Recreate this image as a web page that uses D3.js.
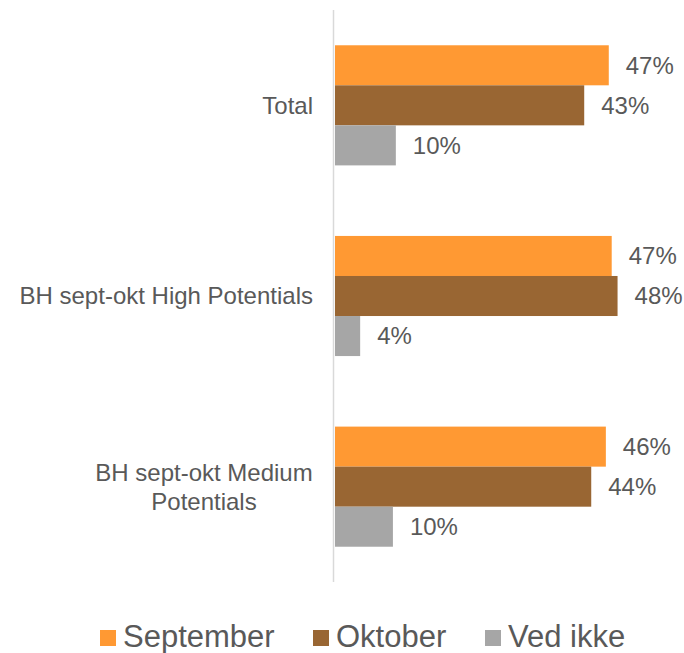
<!DOCTYPE html>
<html>
<head>
<meta charset="utf-8">
<script src="https://cdn.jsdelivr.net/npm/d3@7"></script>
<style>
  body { margin: 0; background: #fff; }
  text { font-family: "Liberation Sans", Arial, sans-serif; fill: #595959; }
</style>
</head>
<body>
<div id="chart"></div>
<script>
// data
var categories = ["Total", "BH sept-okt High Potentials", "BH sept-okt Medium Potentials"];
var seriesNames = ["September", "Oktober", "Ved ikke"];
var september = [46.8, 47.3, 46.3];
var oktober = [42.6, 48.3, 43.8];
var vedIkke = [10.4, 4.3, 9.9];
var colors = ["#ff9933", "#996633", "#a6a6a6"];

var W = 684, H = 653;
var margin = { top: 10, right: 0, bottom: 71, left: 335 };
var width = W - margin.left - margin.right;
var height = H - margin.top - margin.bottom;

var svg = d3.select("#chart").append("svg")
    .attr("width", W)
    .attr("height", H);

var g = svg.append("g")
    .attr("transform", "translate(" + margin.left + "," + margin.top + ")");

var series = [september, oktober, vedIkke];

var y0 = d3.scaleBand()
    .domain(categories)
    .range([0, height])
    .paddingInner(0.37)
    .paddingOuter(0.185);

var y1 = d3.scaleBand()
    .domain(seriesNames)
    .range([0, y0.bandwidth()]);

var x = d3.scaleLinear().domain([0, 100]).range([0, 585]);

var groups = g.selectAll(".grp")
    .data(categories)
    .enter().append("g")
    .attr("class", "grp")
    .attr("transform", function (d) { return "translate(0," + y0(d) + ")"; });

groups.selectAll("rect")
    .data(function (d, i) {
        return seriesNames.map(function (s, j) { return { s: s, v: series[j][i], c: colors[j] }; });
    })
    .enter().append("rect")
    .attr("x", 0)
    .attr("y", function (d) { return y1(d.s); })
    .attr("width", function (d) { return x(d.v); })
    .attr("height", y1.bandwidth())
    .attr("fill", function (d) { return d.c; });

groups.selectAll(".val")
    .data(function (d, i) {
        return seriesNames.map(function (s, j) { return { s: s, v: series[j][i] }; });
    })
    .enter().append("text")
    .attr("class", "val")
    .attr("x", function (d) { return x(d.v) + 17; })
    .attr("y", function (d) { return y1(d.s) + y1.bandwidth() / 2; })
    .attr("dy", "0.35em")
    .style("font-size", "24px")
    .text(function (d) { return Math.round(d.v) + "%"; });

// axis line
g.append("line")
    .attr("x1", -1.5).attr("x2", -1.5)
    .attr("y1", 0).attr("y2", height)
    .attr("stroke", "#d9d9d9")
    .attr("stroke-width", 1.5);

// category labels (wrapped like the original)
var labelLines = [["Total"], ["BH sept-okt High Potentials"], ["BH sept-okt Medium", "Potentials"]];
categories.forEach(function (c, i) {
    var lines = labelLines[i];
    var cy = y0(c) + y0.bandwidth() / 2;
    var t = g.append("text")
        .attr("text-anchor", lines.length > 1 ? "middle" : "end")
        .style("font-size", "24px");
    var lx = lines.length > 1 ? -131 : -22;
    lines.forEach(function (l, k) {
        t.append("tspan")
            .attr("x", lx)
            .attr("y", cy + (k - (lines.length - 1) / 2) * 29)
            .attr("dy", "0.35em")
            .text(l);
    });
});

// legend
var legendX = [100, 313, 485];
var legend = svg.append("g");
seriesNames.forEach(function (s, i) {
    legend.append("rect")
        .attr("x", legendX[i]).attr("y", 630)
        .attr("width", 16).attr("height", 16)
        .attr("fill", colors[i]);
    legend.append("text")
        .attr("x", legendX[i] + 23)
        .attr("y", 647)
        .style("font-size", "31px")
        .text(s);
});
</script>
</body>
</html>
